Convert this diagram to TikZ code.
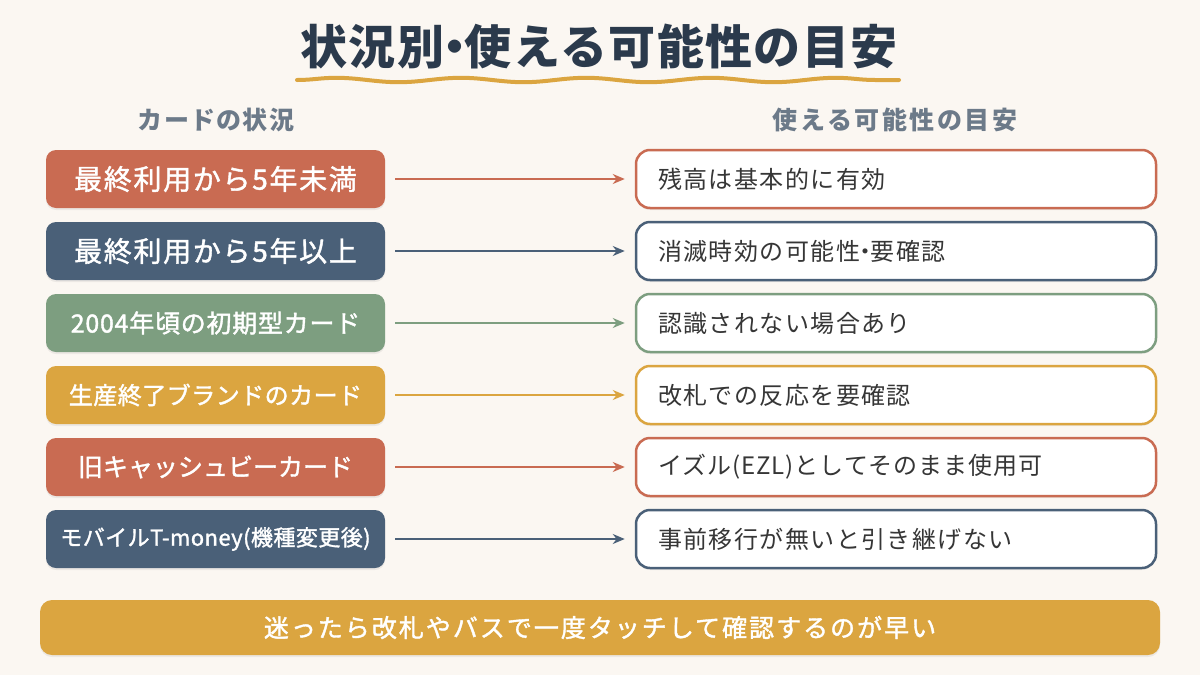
\documentclass[tikz,border=0pt]{standalone}
\usepackage{fontspec}
\setmainfont{Noto Sans CJK JP}
\usetikzlibrary{arrows.meta,decorations.pathmorphing,shadows}
\definecolor{bg}{HTML}{FBF7F2}
\definecolor{cred}{HTML}{C96B52}
\definecolor{cnavy}{HTML}{4A6078}
\definecolor{cgreen}{HTML}{7D9E80}
\definecolor{cgold}{HTML}{DBA540}
\definecolor{ctitle}{HTML}{2B3A4C}
\definecolor{chead}{HTML}{6C7A89}
\definecolor{ctext}{HTML}{363636}
\newcommand\ftxt[3]{\fontsize{#1}{#1}\selectfont\addfontfeature{LetterSpace=#2}#3}
\newcommand\mtxt[3]{\fontsize{#1}{#1}\selectfont\addfontfeature{LetterSpace=#2,FakeBold=1.5}#3}
\newcommand\ndot{\hspace{-0.28em}・\hspace{-0.28em}}
\tikzset{
  leftbox/.style={rounded corners=5pt, minimum width=169.5pt, minimum height=29pt, inner sep=0pt,
    text=white, fill=#1, drop shadow={shadow xshift=0pt, shadow yshift=-1pt, opacity=0.12}},
  rightbox/.style={rounded corners=7pt, draw=#1, line width=1.25pt, fill=white,
    text width=238pt, inner xsep=11pt, inner ysep=0pt, minimum height=29pt, align=left, text=ctext,
    drop shadow={shadow xshift=0pt, shadow yshift=-1pt, opacity=0.10}},
  conn/.style={draw=#1, line width=1pt, -{Stealth[length=6pt,width=5pt]}},
}
\begin{document}
\begin{tikzpicture}[x=0.5pt,y=-0.5pt]
\useasboundingbox (0,0) rectangle (1200,675);
\fill[bg] (0,0) rectangle (1200,675);
% title
\node[text=ctitle, inner sep=0pt] (title) at (599,47) {\bfseries\ftxt{23.5}{3}{状況別\ndot 使える可能性の目安}};
\coordinate (wl) at (297,80);
\coordinate (wr) at (899,80);
\draw[cgold, line width=2pt, line cap=round, decorate,
  decoration={snake, segment length=62.5pt, amplitude=1.1pt}] (wl) -- (wr);
% headers
\node[text=chead, inner sep=0pt] (hl) at (216,120) {\bfseries\ftxt{12.5}{5}{カードの状況}};
\node[text=chead, inner sep=0pt] (hr) at (895,120) {\bfseries\ftxt{12.5}{10}{使える可能性の目安}};
% left boxes
\node[leftbox=cred]   (l1) at (215.5,179) {\mtxt{14}{6}{最終利用から5年未満}};
\node[leftbox=cnavy]  (l2) at (215.5,251) {\mtxt{14}{6}{最終利用から5年以上}};
\node[leftbox=cgreen] (l3) at (215.5,323) {\mtxt{12.5}{3}{2004年頃の初期型カード}};
\node[leftbox=cgold]  (l4) at (215.5,395) {\mtxt{12}{2}{生産終了ブランドのカード}};
\node[leftbox=cred]   (l5) at (215.5,467) {\mtxt{12.5}{0}{旧キャッシュビーカード}};
\node[leftbox=cnavy]  (l6) at (215.5,539) {\mtxt{11}{2}{モバイルT-money(機種変更後)}};
% right boxes
\node[rightbox=cred]   (r1) at (896,179) {\ftxt{12}{6}{残高は基本的に有効}};
\node[rightbox=cnavy]  (r2) at (896,251) {\ftxt{12}{6}{消滅時効の可能性\ndot 要確認}};
\node[rightbox=cgreen] (r3) at (896,323) {\ftxt{12}{6}{認識されない場合あり}};
\node[rightbox=cgold]  (r4) at (896,395) {\ftxt{12}{6}{改札での反応を要確認}};
\node[rightbox=cred]   (r5) at (896,467) {\ftxt{12}{4}{イズル(EZL)としてそのまま使用可}};
\node[rightbox=cnavy]  (r6) at (896,539) {\ftxt{12}{6}{事前移行が無いと引き継げない}};
% connectors
\draw[conn=cred]   ([xshift=5pt]l1.east) -- ([xshift=-5pt]r1.west);
\draw[conn=cnavy]  ([xshift=5pt]l2.east) -- ([xshift=-5pt]r2.west);
\draw[conn=cgreen] ([xshift=5pt]l3.east) -- ([xshift=-5pt]r3.west);
\draw[conn=cgold]  ([xshift=5pt]l4.east) -- ([xshift=-5pt]r4.west);
\draw[conn=cred]   ([xshift=5pt]l5.east) -- ([xshift=-5pt]r5.west);
\draw[conn=cnavy]  ([xshift=5pt]l6.east) -- ([xshift=-5pt]r6.west);
% banner
\node[rounded corners=6pt, fill=cgold, minimum width=560pt, minimum height=27.5pt, inner sep=0pt, text=white,
  drop shadow={shadow xshift=0pt, shadow yshift=-1pt, opacity=0.12}]
  (banner) at (600,627.5) {\mtxt{12.5}{8}{迷ったら改札やバスで一度タッチして確認するのが早い}};
\end{tikzpicture}
\end{document}
